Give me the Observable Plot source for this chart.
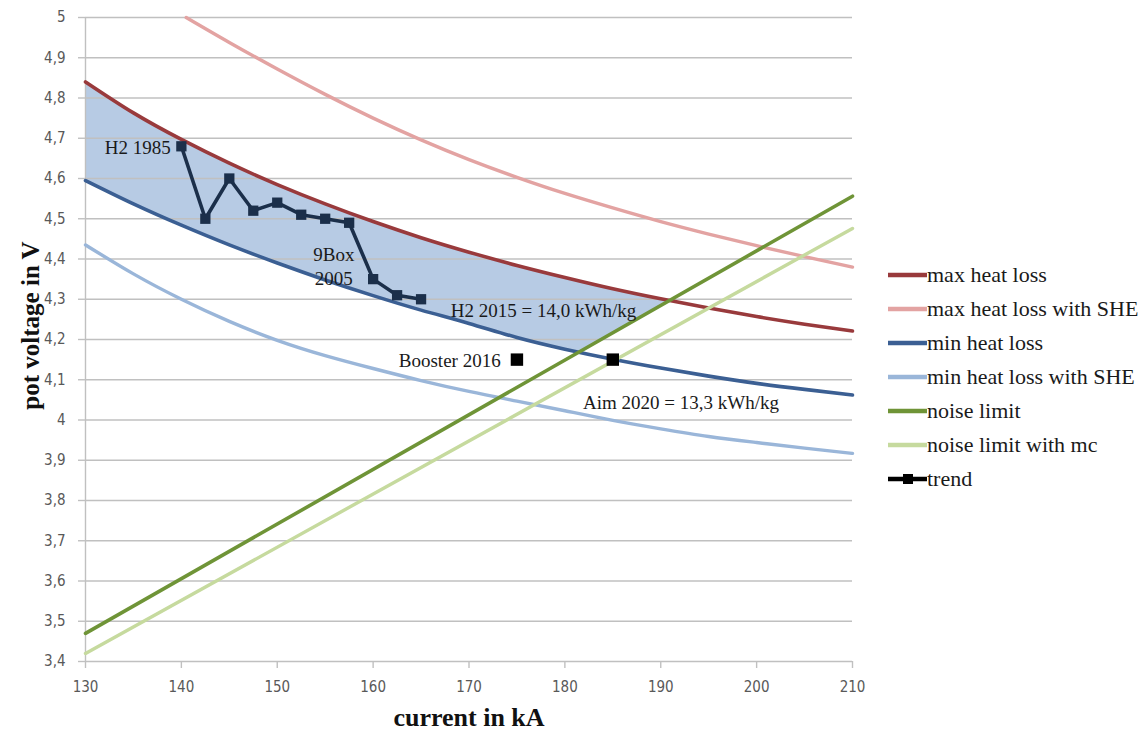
<!DOCTYPE html>
<html><head><meta charset="utf-8">
<script src="https://cdn.jsdelivr.net/npm/d3@7"></script>
<script src="https://cdn.jsdelivr.net/npm/@observablehq/plot@0.6"></script>
<style>
body{margin:0;background:#fff}
#wrap{position:relative;width:1148px;height:738px;overflow:hidden}
#legend{position:absolute;left:888px;top:258px;font-family:"Liberation Serif","Times New Roman",serif;font-size:22px;color:#1a1a1a}
.row{display:flex;align-items:center;height:34px;white-space:nowrap}
.row svg{flex:none}
</style></head><body><div id="wrap"><div id="legend"></div></div>
<script>
// ---- data ----
const current = [130,135,140,145,150,155,160,165,170,175,180,185,190,195,200,205,210];
const maxHeatLoss = [4.84,4.763,4.697,4.638,4.585,4.537,4.493,4.453,4.417,4.384,4.354,4.326,4.301,4.278,4.257,4.238,4.221];
const minHeatLoss = [4.595,4.537,4.484,4.435,4.390,4.348,4.309,4.273,4.240,4.205,4.176,4.151,4.129,4.109,4.091,4.076,4.062];
const minHeatLossSHE = [4.435,4.363,4.300,4.245,4.198,4.160,4.128,4.098,4.071,4.047,4.023,3.999,3.978,3.959,3.944,3.930,3.917];
const sheCurrent = [140.5,145,150,155,160,165,170,175,180,185,190,195,200,205,210];
const maxHeatLossSHE = [5.0,4.938,4.872,4.809,4.750,4.696,4.647,4.603,4.563,4.527,4.493,4.462,4.433,4.406,4.380];
const noiseCurrent = [130,210];
const noiseLimit = [3.47,4.556];
const noiseLimitMc = [3.42,4.476];
const trendCurrent = [140,142.5,145,147.5,150,152.5,155,157.5,160,162.5,165];
const trendVoltage = [4.68,4.50,4.60,4.52,4.54,4.51,4.50,4.49,4.35,4.31,4.30];
const targetCurrent = [175,185];
const targetVoltage = [4.15,4.15];
const annotText = ["H2 1985","9Box\n2005","H2 2015 = 14,0 kWh/kg","Booster 2016","Aim 2020 = 13,3 kWh/kg"];
const annotCurrent = [138.9,155.9,168.1,173.3,181.9];
const annotVoltage = [4.68,4.385,4.276,4.15,4.047];
const annotAnchor = ["end","middle","start","end","start"];
const xTicks = [130,140,150,160,170,180,190,200,210];
const yTicks = [3.4,3.5,3.6,3.7,3.8,3.9,4.0,4.1,4.2,4.3,4.4,4.5,4.6,4.7,4.8,4.9,5.0];
const seriesNames = ["max heat loss","max heat loss with SHE","min heat loss","min heat loss with SHE","noise limit","noise limit with mc","trend"];
const seriesColors = ["#993a3c","#e3a3a2","#3b5f93","#9ab6d9","#6f9437","#c6da9e","#1b2f4a"];

// ---- derived tables ----
const pts = (xs, ys) => xs.map((x, i) => ({x, y: ys[i]}));
const lerp = (xs, ys) => v => {
  let i = d3.bisectRight(xs, v) - 1;
  i = Math.max(0, Math.min(xs.length - 2, i));
  const t = (v - xs[i]) / (xs[i + 1] - xs[i]);
  return ys[i] + t * (ys[i + 1] - ys[i]);
};
const fMax = lerp(current, maxHeatLoss), fMin = lerp(current, minHeatLoss), fNoise = lerp(noiseCurrent, noiseLimit);
const band = [];
for (let k = 0; k <= 320; k++) {
  const I = 130 + k * 0.2;
  const up = fMax(I), lo = Math.max(fMin(I), fNoise(I));
  band.push({x: I, y1: Math.min(lo, up), y2: up});
  if (lo >= up) break;
}
const annots = annotText.map((t, i) => ({t, x: annotCurrent[i], y: annotVoltage[i], a: annotAnchor[i]}));
const fmt = d => d3.format(".1~f")(d).replace(".", ",");
const serif = "'Liberation Serif','Times New Roman',serif";
const annotMark = anchor => Plot.text(annots.filter(d => d.a === anchor), {
  x: "x", y: "y", text: "t", textAnchor: anchor, fontFamily: serif, fontSize: 19, fill: "#1a1a1a", lineHeight: 1.25
});

const chart = Plot.plot({
  width: 1148, height: 738,
  marginLeft: 85, marginRight: 296, marginTop: 17, marginBottom: 77,
  x: {domain: [130, 210]},
  y: {domain: [3.4, 5.0]},
  style: {fontFamily: "'DejaVu Sans Condensed','Liberation Sans Narrow',sans-serif", fontSize: "15px", color: "#595959", background: "#fff"},
  marks: [
    Plot.areaY(band, {x: "x", y1: "y1", y2: "y2", fill: "#b7cbe4", fillOpacity: 1}),
    Plot.gridY(yTicks, {stroke: "#c0c0c0", strokeOpacity: 1, strokeWidth: 1.4}),
    Plot.ruleX([130], {stroke: "#c0c0c0", strokeWidth: 1.4}),
    Plot.axisY(yTicks, {tickFormat: fmt, tickSize: 7, tickPadding: 13, stroke: "#c0c0c0", strokeWidth: 1.4, label: null}),
    Plot.axisX(xTicks, {tickSize: 7, tickPadding: 13, stroke: "#c0c0c0", strokeWidth: 1.4, label: null}),
    Plot.line(pts(current, maxHeatLoss), {x: "x", y: "y", stroke: seriesColors[0], strokeWidth: 3.6, curve: "natural"}),
    Plot.line(pts(sheCurrent, maxHeatLossSHE), {x: "x", y: "y", stroke: seriesColors[1], strokeWidth: 3.4, curve: "natural"}),
    Plot.line(pts(current, minHeatLoss), {x: "x", y: "y", stroke: seriesColors[2], strokeWidth: 3.6, curve: "natural"}),
    Plot.line(pts(current, minHeatLossSHE), {x: "x", y: "y", stroke: seriesColors[3], strokeWidth: 3.4, curve: "natural"}),
    Plot.line(pts(noiseCurrent, noiseLimit), {x: "x", y: "y", stroke: seriesColors[4], strokeWidth: 3.6}),
    Plot.line(pts(noiseCurrent, noiseLimitMc), {x: "x", y: "y", stroke: seriesColors[5], strokeWidth: 3.4}),
    Plot.line(pts(trendCurrent, trendVoltage), {x: "x", y: "y", stroke: seriesColors[6], strokeWidth: 3.6}),
    Plot.dot(pts(trendCurrent, trendVoltage), {x: "x", y: "y", symbol: "square", r: 5.8, fill: seriesColors[6], stroke: "none"}),
    Plot.dot(pts(targetCurrent, targetVoltage), {x: "x", y: "y", symbol: "square", r: 7, fill: "#000", stroke: "none"}),
    annotMark("start"), annotMark("middle"), annotMark("end"),
    Plot.text(["pot voltage in V"], {frameAnchor: "left", textAnchor: "middle", rotate: -90, dx: -55, dy: -14, fontFamily: serif, fontWeight: "bold", fontSize: 25, fill: "#111"}),
    Plot.text(["current in kA"], {frameAnchor: "bottom", dy: 64, fontFamily: serif, fontWeight: "bold", fontSize: 26, fill: "#111"})
  ]
});
document.getElementById("wrap").prepend(chart);

// ---- legend ----
const legend = d3.select("#legend");
seriesNames.forEach((name, i) => {
  const row = legend.append("div").attr("class", "row");
  const s = row.append("svg").attr("width", 39).attr("height", 14);
  s.append("line").attr("x1", 0).attr("x2", 39).attr("y1", 7).attr("y2", 7)
    .attr("stroke", i === 6 ? "#000" : seriesColors[i]).attr("stroke-width", 4.5);
  if (i === 6) s.append("rect").attr("x", 15).attr("y", 2).attr("width", 10).attr("height", 10).attr("fill", "#000");
  row.append("span").text(name);
});
</script>
</body></html>
